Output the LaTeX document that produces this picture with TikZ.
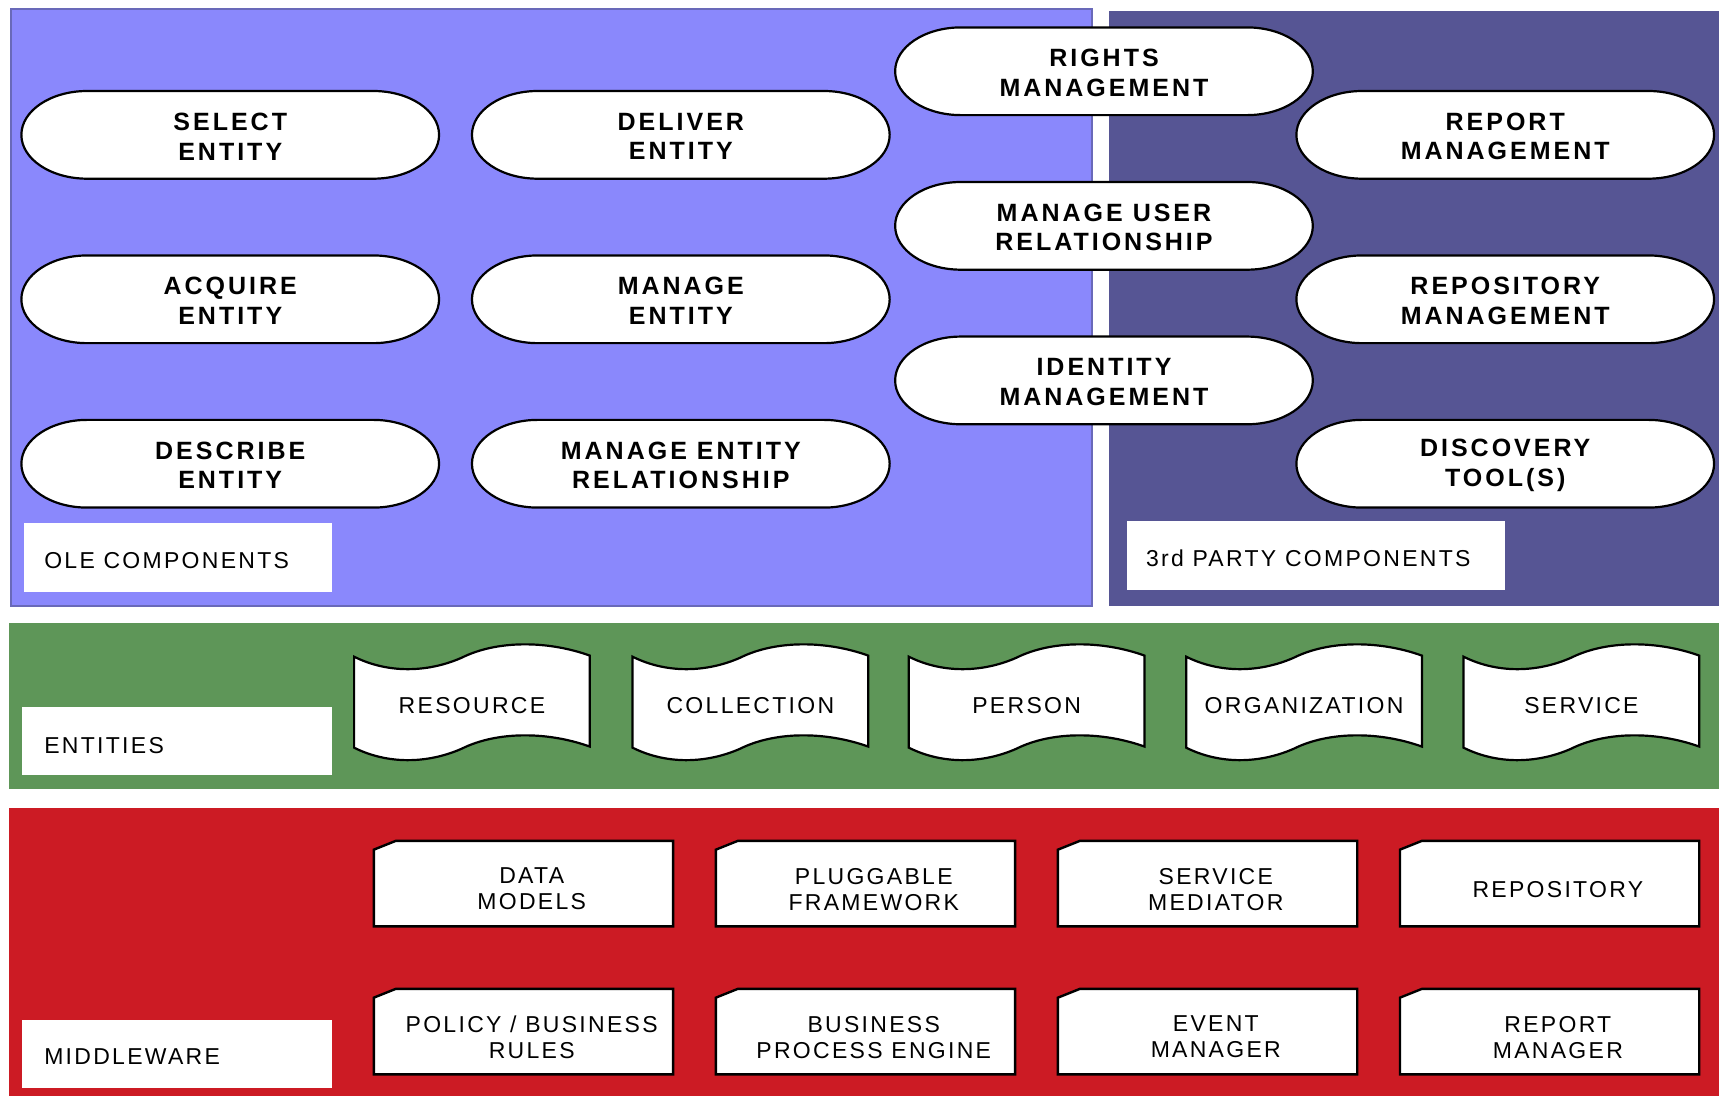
\documentclass[tikz,border=0pt]{standalone}
\usepackage{fontspec}
\setmainfont{Liberation Sans}
\newfontfamily\lblfont[LetterSpace=10]{Liberation Sans}
\newfontfamily\boldfont[LetterSpace=12]{Liberation Sans}
\definecolor{olec}{RGB}{138,136,252}
\definecolor{olebd}{RGB}{105,105,185}
\definecolor{thirdc}{RGB}{86,85,148}
\definecolor{entc}{RGB}{94,150,88}
\definecolor{midc}{RGB}{204,27,36}
\tikzset{
  stad/.style={fill=white, draw=black, line width=1.1pt},
  stadtxt/.style={font=\boldfont\bfseries\fontsize{12.5}{14.8}\selectfont, align=center, inner sep=0pt},
  entshape/.style={fill=white, draw=black, line width=1.1pt},
  mwshape/.style={fill=white, draw=black, line width=1.2pt},
  lbltxt/.style={font=\lblfont\fontsize{11.5}{13}\selectfont, align=center, inner sep=0pt},
  bandlbl/.style={font=\lblfont\fontsize{11.5}{13}\selectfont, anchor=west, inner sep=0pt},
}
\newcommand\stadium[4]{%
  \draw[stad] (#2-130.5,#3-40) -- (#2+130.5,#3-40)
    arc[start angle=-90,end angle=90,x radius=60,y radius=40]
    -- (#2-130.5,#3+40)
    arc[start angle=90,end angle=270,x radius=60,y radius=40] -- cycle;
  \node[stadtxt] (#1) at (#2,#3+1.5) {#4};}
\newcommand\entity[3]{%
  \draw[entshape] (#2,599) .. controls (#2+30,614) and (#2+66,614) .. (#2+98,600)
    .. controls (#2+130,584) and (#2+176,584) .. (#2+215,598)
    -- (#2+215,681) .. controls (#2+176,667) and (#2+130,667) .. (#2+98,683)
    .. controls (#2+66,697) and (#2+30,697) .. (#2,682) -- cycle;
  \node[lbltxt] (#1) at (#2+107.5,644) {#3};}
\newcommand\mwbox[4]{%
  \draw[mwshape] (#2,#3+8) -- (#2+20,#3) -- (#2+273,#3) -- (#2+273,#3+78)
    -- (#2,#3+78) -- cycle;
  \node[lbltxt] (#1) at (#2+144,#3+44) {#4};}
\begin{document}
\begin{tikzpicture}[x=0.54815pt,y=-0.54815pt]
\useasboundingbox (0,0) rectangle (1568,1000);
\fill[white] (0,0) rectangle (1568,1000);
% bands
\draw[fill=olec, draw=olebd, line width=0.8pt] (10,8) rectangle (996,553);
\fill[thirdc] (1012,10) rectangle (1568,553);
\fill[entc] (8,568) rectangle (1568,720);
\fill[midc] (8,737) rectangle (1568,1000);
% label boxes
\fill[white] (22,477) rectangle (303,540);
\node[bandlbl] (olelbl) at (40,511) {OLE COMPONENTS};
\fill[white] (1028,475) rectangle (1373,538);
\node[bandlbl] (thirdlbl) at (1045,509) {3rd PARTY COMPONENTS};
\fill[white] (20,645) rectangle (303,707);
\node[bandlbl] (entlbl) at (40,680) {ENTITIES};
\fill[white] (20,930) rectangle (303,992);
\node[bandlbl] (mwlbl) at (40,964) {MIDDLEWARE};
% components
\stadium{sel}{210}{123}{SELECT\\ENTITY}
\stadium{acq}{210}{273}{ACQUIRE\\ENTITY}
\stadium{des}{210}{423}{DESCRIBE\\ENTITY}
\stadium{del}{621}{123}{DELIVER\\ENTITY}
\stadium{man}{621}{273}{MANAGE\\ENTITY}
\stadium{mer}{621}{423}{MANAGE ENTITY\\RELATIONSHIP}
\stadium{rig}{1007}{65}{RIGHTS\\MANAGEMENT}
\stadium{mur}{1007}{206}{MANAGE USER\\RELATIONSHIP}
\stadium{ide}{1007}{347}{IDENTITY\\MANAGEMENT}
\stadium{rep}{1373}{123}{REPORT\\MANAGEMENT}
\stadium{rpm}{1373}{273}{REPOSITORY\\MANAGEMENT}
\stadium{dis}{1373}{423}{DISCOVERY\\TOOL(S)}
% entities
\entity{res}{323}{RESOURCE}
\entity{col}{577}{COLLECTION}
\entity{per}{829}{PERSON}
\entity{org}{1082}{ORGANIZATION}
\entity{ser}{1335}{SERVICE}
% middleware
\mwbox{dm}{341}{767}{DATA\\MODELS}
\mwbox{pf}{653}{767}{PLUGGABLE\\FRAMEWORK}
\mwbox{sm}{965}{767}{SERVICE\\MEDIATOR}
\mwbox{repo}{1277}{767}{REPOSITORY}
\mwbox{pbr}{341}{902}{POLICY / BUSINESS\\RULES}
\mwbox{bpe}{653}{902}{BUSINESS\\PROCESS ENGINE}
\mwbox{em}{965}{902}{EVENT\\MANAGER}
\mwbox{rm}{1277}{902}{REPORT\\MANAGER}
\end{tikzpicture}
\end{document}
